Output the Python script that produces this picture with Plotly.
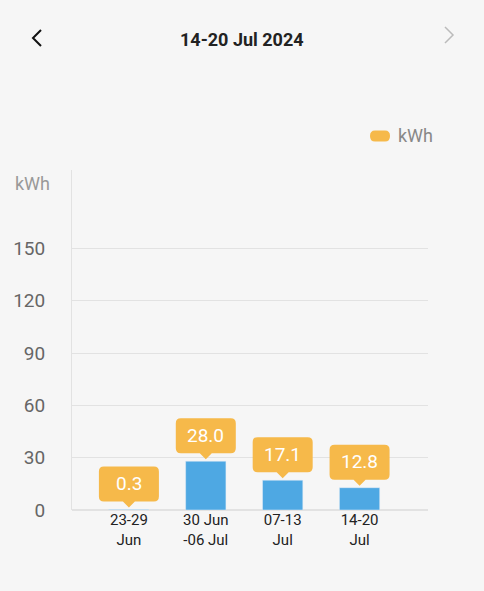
import plotly.graph_objects as go

categories = ["23-29<br>Jun", "30 Jun<br>-06 Jul", "07-13<br>Jul", "14-20<br>Jul"]
values = [0.3, 28.0, 17.1, 12.8]
value_labels = ["0.3", "28.0", "17.1", "12.8"]
y_ticks = [0, 30, 60, 90, 120, 150]
title_text = "14-20 Jul 2024"
unit = "kWh"

BG = "#f6f6f6"
BAR = "#4ea8e3"
ORANGE = "#f6b94a"
FONT = "Roboto"

fig = go.Figure()
fig.add_trace(go.Bar(x=categories, y=values, marker_color=BAR, width=0.524,
                     hoverinfo="skip", showlegend=False))

shapes = []
annotations = []
box = ("M -25,8 L -6,8 L 0,2 L 6,8 L 25,8 Q 30,8 30,13 L 30,38 Q 30,43 25,43 "
       "L -25,43 Q -30,43 -30,38 L -30,13 Q -30,8 -25,8 Z")
for i, (v, t) in enumerate(zip(values, value_labels)):
    shapes.append(dict(type="path", xref="x", yref="y", xsizemode="pixel", ysizemode="pixel",
                       xanchor=i, yanchor=v, path=box, fillcolor=ORANGE, line=dict(width=0)))
    annotations.append(dict(x=i, y=v, xref="x", yref="y", text=t, showarrow=False,
                            yshift=26, yanchor="middle",
                            font=dict(family=FONT, size=19, color="white")))


def px(x):
    return (x - 72) / 356


def py(y):
    return (510 - y) / 340


# chevrons
shapes.append(dict(type="path", xref="paper", yref="paper", xsizemode="pixel", ysizemode="pixel",
                   xanchor=px(36), yanchor=py(38),
                   path="M 5,8 L -3,0 L 5,-8", line=dict(color="#111", width=2)))
shapes.append(dict(type="path", xref="paper", yref="paper", xsizemode="pixel", ysizemode="pixel",
                   xanchor=px(449), yanchor=py(35),
                   path="M -4,8 L 4,0 L -4,-8", line=dict(color="#bbbbbb", width=1.5)))
# legend pill
shapes.append(dict(type="path", xref="paper", yref="paper", xsizemode="pixel", ysizemode="pixel",
                   xanchor=px(380), yanchor=py(136),
                   path="M -5,5.5 L 5,5.5 Q 10,5.5 10,0 Q 10,-5.5 5,-5.5 L -5,-5.5 Q -10,-5.5 -10,0 Q -10,5.5 -5,5.5 Z",
                   fillcolor=ORANGE, line=dict(width=0)))

annotations.append(dict(x=px(242), y=py(39), xref="paper", yref="paper",
                        text="<b>" + title_text + "</b>", showarrow=False,
                        xanchor="center", yanchor="middle",
                        font=dict(family=FONT, size=18, color="#222")))
annotations.append(dict(x=px(396), y=py(136), xref="paper", yref="paper",
                        text=unit, showarrow=False, xanchor="left", yanchor="middle",
                        font=dict(family=FONT, size=18, color="#888")))
annotations.append(dict(x=px(32), y=py(183), xref="paper", yref="paper",
                        text=unit, showarrow=False, xanchor="center", yanchor="middle",
                        font=dict(family=FONT, size=18, color="#999")))

fig.update_layout(
    width=484, height=591,
    margin=dict(l=72, r=56, t=170, b=81),
    paper_bgcolor=BG, plot_bgcolor=BG,
    font=dict(family=FONT),
    shapes=shapes, annotations=annotations,
    xaxis=dict(range=[-0.74, 3.89], showgrid=False, zeroline=False, showline=False,
               ticks="", tickfont=dict(size=15, color="#222"), ticklabelstandoff=-1),
    yaxis=dict(range=[0, 195], tickvals=y_ticks, showgrid=True, gridcolor="#e2e2e2",
               zeroline=True, zerolinecolor="#e2e2e2", showline=True, linecolor="#e2e2e2",
               ticks="", ticklabelstandoff=22, tickfont=dict(size=19, color="#666")),
)

fig.write_html("out.html", config={"displayModeBar": False},
               post_script="document.body.style.margin='0';document.body.style.padding='0';"
                           "document.body.style.background='#f6f6f6';"
                           "document.documentElement.style.background='#f6f6f6';")
